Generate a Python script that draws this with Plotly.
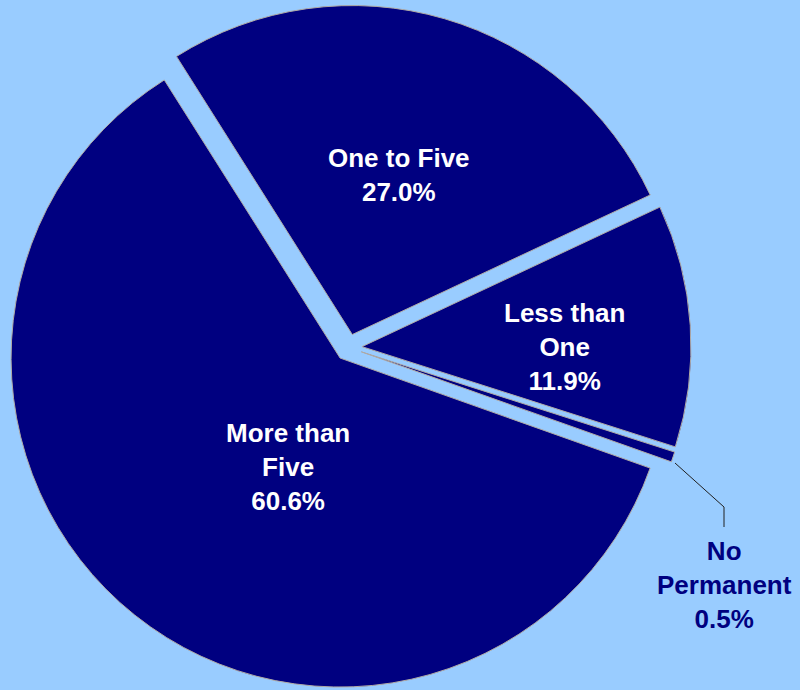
import plotly.graph_objects as go

# Share of respondents by length of stay
categories = ["One to Five", "Less than One", "No Permanent", "More than Five"]
label_lines = ["One to Five", "Less than<br>One", "No<br>Permanent", "More than<br>Five"]
shares = [27.0, 11.9, 0.5, 60.6]

NAVY = "#000080"
SKY = "#99CCFF"
EDGE = "#B0AAA4"

W, H = 800, 690
M_L, M_T, M_R, M_B = 0, 5, 103, 0
PW, PH = W - M_L - M_R, H - M_T - M_B


def px(x, y):
    """Pixel position -> paper coordinates of the plot area."""
    return (x - M_L) / PW, 1 - (y - M_T) / PH


fig = go.Figure(
    go.Pie(
        labels=categories,
        values=shares,
        sort=False,
        direction="clockwise",
        rotation=-32.3,
        pull=[0.041] * len(shares),
        marker=dict(colors=[NAVY] * len(shares), line=dict(color=EDGE, width=1)),
        textinfo="none",
        hoverinfo="label+percent",
        showlegend=False,
    )
)

# Label block centres (pixels) and text colours
label_pos = [(398.5, 175), (564.5, 347), (724, 585), (287.5, 467)]
label_color = ["white", "white", NAVY, "white"]

for name, val, (lx, ly), col in zip(label_lines, shares, label_pos, label_color):
    ax, ay = px(lx, ly)
    fig.add_annotation(
        x=ax, y=ay, xref="paper", yref="paper",
        text=f"<b>{name}<br>{val:.1f}%</b>",
        showarrow=False, xanchor="center", yanchor="middle", align="center",
        font=dict(family="Liberation Sans, Arial, sans-serif", size=26, color=col),
    )

# Leader line for the thin slice
p0, p1, p2 = px(675, 463), px(724, 507), px(724, 527)
fig.add_shape(
    type="path", xref="paper", yref="paper",
    path=f"M {p0[0]} {p0[1]} L {p1[0]} {p1[1]} L {p2[0]} {p2[1]}",
    line=dict(color="#202020", width=1),
)

fig.update_layout(
    width=W, height=H,
    margin=dict(l=M_L, r=M_R, t=M_T, b=M_B, pad=0),
    paper_bgcolor=SKY, plot_bgcolor=SKY,
)

fig.write_html("out.html")
